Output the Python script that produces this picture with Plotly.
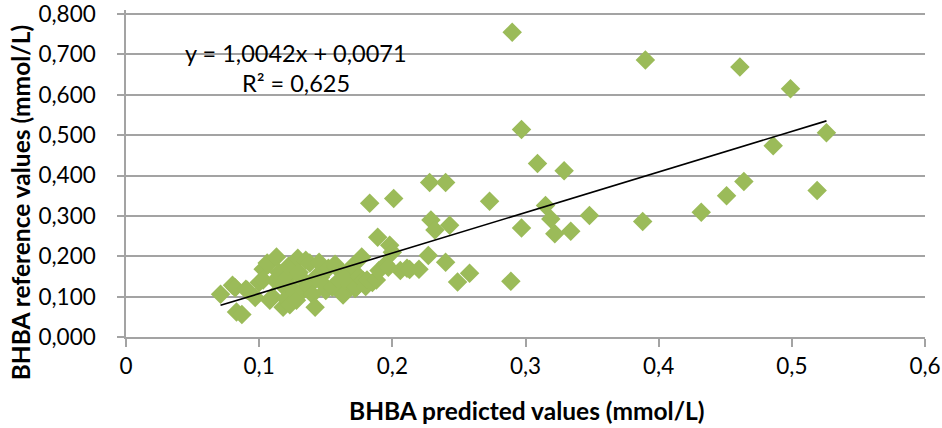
import plotly.graph_objects as go

# BHBA predicted vs. reference values (mmol/L)
predicted = [
    0.071, 0.080, 0.082, 0.083, 0.087, 0.090, 0.091, 0.097, 0.100, 0.103,
    0.103, 0.106, 0.107, 0.108, 0.110, 0.112, 0.113, 0.115, 0.117, 0.118,
    0.120, 0.121, 0.122, 0.123, 0.125, 0.127, 0.128, 0.129, 0.130, 0.132,
    0.133, 0.135, 0.137, 0.138, 0.140, 0.142, 0.143, 0.145, 0.146, 0.147,
    0.150, 0.152, 0.155, 0.157, 0.158, 0.160, 0.162, 0.163, 0.165, 0.168,
    0.170, 0.172, 0.173, 0.175, 0.177, 0.178, 0.180, 0.181, 0.183, 0.185,
    0.188, 0.189, 0.190, 0.195, 0.197, 0.198, 0.200, 0.201, 0.206, 0.211,
    0.213, 0.220, 0.227, 0.228, 0.229, 0.232, 0.240, 0.240, 0.243, 0.249,
    0.258, 0.273, 0.289, 0.290, 0.297, 0.297, 0.309, 0.315, 0.319, 0.322,
    0.329, 0.334, 0.348, 0.388, 0.390, 0.432, 0.451, 0.461, 0.464, 0.486,
    0.499, 0.519, 0.526,
]
reference = [
    0.106, 0.128, 0.122, 0.062, 0.056, 0.118, 0.116, 0.098, 0.135, 0.168,
    0.141, 0.183, 0.180, 0.091, 0.100, 0.140, 0.198, 0.160, 0.130, 0.074,
    0.095, 0.148, 0.175, 0.080, 0.120, 0.110, 0.091, 0.195, 0.160, 0.145,
    0.116, 0.190, 0.125, 0.183, 0.105, 0.074, 0.150, 0.185, 0.148, 0.135,
    0.115, 0.170, 0.123, 0.180, 0.173, 0.140, 0.110, 0.104, 0.155, 0.130,
    0.175, 0.120, 0.123, 0.150, 0.198, 0.140, 0.125, 0.141, 0.331, 0.135,
    0.141, 0.247, 0.165, 0.180, 0.173, 0.227, 0.210, 0.343, 0.165, 0.170,
    0.167, 0.168, 0.202, 0.383, 0.290, 0.265, 0.383, 0.185, 0.277, 0.136,
    0.158, 0.336, 0.138, 0.755, 0.514, 0.270, 0.430, 0.326, 0.292, 0.256,
    0.412, 0.262, 0.301, 0.286, 0.686, 0.309, 0.350, 0.669, 0.385, 0.474,
    0.615, 0.363, 0.506,
]

# Linear trendline coefficients
slope = 1.0042
intercept = 0.0071
r_squared = 0.625

x_ticks = [0, 0.1, 0.2, 0.3, 0.4, 0.5, 0.6]
y_ticks = [0, 0.1, 0.2, 0.3, 0.4, 0.5, 0.6, 0.7, 0.8]

FONT = "Lato"
GRID = "#A3A3A3"

fig = go.Figure()

fig.add_trace(go.Scatter(
    x=predicted, y=reference, mode="markers",
    marker=dict(symbol="diamond", size=15, color="#9BBB59", line=dict(width=0)),
    showlegend=False, hoverinfo="x+y",
))

x_lo, x_hi = min(predicted), max(predicted)
fig.add_trace(go.Scatter(
    x=[x_lo, x_hi],
    y=[slope * x_lo + intercept, slope * x_hi + intercept],
    mode="lines", line=dict(color="black", width=1.6),
    showlegend=False, hoverinfo="skip",
))

def fmt(v, d):
    return f"{v:.{d}f}".replace(".", ",")

fig.add_annotation(
    x=0.128, y=0.704, xref="x", yref="y", showarrow=False,
    text=f"y = {fmt(slope, 4)}x + {fmt(intercept, 4)}",
    font=dict(family=FONT, size=23.5, color="black"),
)
fig.add_annotation(
    x=0.128, y=0.630, xref="x", yref="y", showarrow=False,
    text=f"R² = {fmt(r_squared, 3)}",
    font=dict(family=FONT, size=23.5, color="black"),
)

# Axis titles
fig.add_annotation(
    x=0.502, y=-0.225, xref="paper", yref="paper", showarrow=False,
    xanchor="center", yanchor="middle",
    text="<b>BHBA predicted values (mmol/L)</b>",
    font=dict(family=FONT, size=24.5, color="black"),
)
fig.add_annotation(
    x=-0.131, y=0.41, xref="paper", yref="paper", showarrow=False,
    xanchor="center", yanchor="middle",
    text="<b>BHBA reference values (mmol/L)</b>", textangle=-90,
    font=dict(family=FONT, size=24.5, color="black"),
)

fig.update_layout(
    width=942, height=428,
    margin=dict(l=126, r=17, t=10, b=91),
    paper_bgcolor="white", plot_bgcolor="white",
    separators=",.",
    font=dict(family=FONT, size=22.5, color="black"),
)
fig.update_xaxes(
    range=[0, 0.6], tickvals=x_ticks, tickformat="", automargin=False,
    showgrid=False, zeroline=False,
    showline=True, linecolor=GRID, linewidth=1.5,
    ticks="outside", ticklen=8, tickcolor=GRID, tickwidth=1.5,
    tickfont=dict(family=FONT, size=22.5),
)
fig.update_yaxes(
    range=[0, 0.81], tickvals=y_ticks, tickformat=".3f", automargin=False,
    showgrid=True, gridcolor=GRID, gridwidth=1.5, zeroline=False,
    showline=True, linecolor=GRID, linewidth=1.5,
    ticks="outside", ticklen=7, tickcolor=GRID, tickwidth=1.5,
    tickfont=dict(family=FONT, size=22.5), ticklabelstandoff=17,
    ticklabeloverflow="allow",
)

fig.write_html("out.html")
